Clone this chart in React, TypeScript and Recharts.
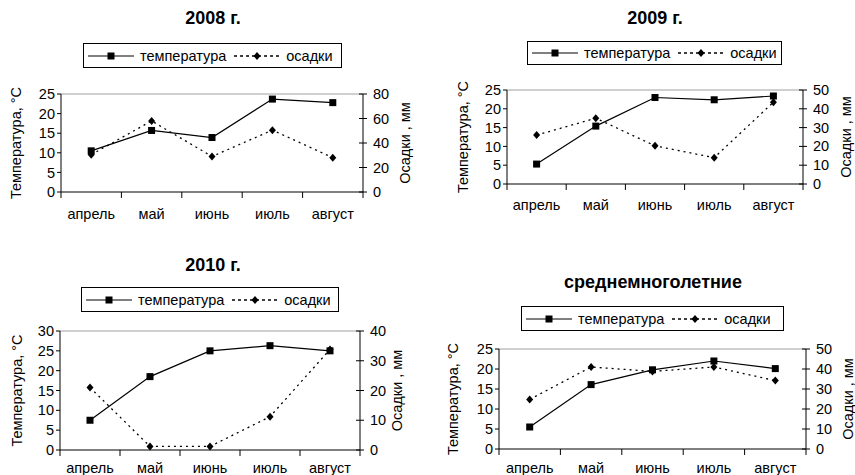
import React from "react";
import { LineChart, Line, XAxis, YAxis, ReferenceLine } from "recharts";

const months = ["апрель", "май", "июнь", "июль", "август"];

const temp2008 = [10.5, 15.7, 13.9, 23.7, 22.8];
const precip2008 = [30.5, 58, 29, 50.5, 28];
const temp2009 = [5.3, 15.4, 23, 22.4, 23.4];
const precip2009 = [26, 35, 20.3, 14, 43.5];
const temp2010 = [7.5, 18.5, 25, 26.3, 25];
const precip2010 = [21, 1.2, 1.2, 11.2, 33.8];
const tempAvg = [5.5, 16.1, 19.8, 22, 20.1];
const precipAvg = [24.8, 41, 38.8, 41, 34.2];

const ticks25 = [0, 5, 10, 15, 20, 25];
const ticks30 = [0, 5, 10, 15, 20, 25, 30];
const ticks80 = [0, 20, 40, 60, 80];
const ticks50 = [0, 10, 20, 30, 40, 50];
const ticks40 = [0, 10, 20, 30, 40];
const xTicks = [0, 0.5, 1, 1.5, 2, 2.5, 3, 3.5, 4, 4.5, 5];

const W = 855;
const H = 475;
const FONT = "'Liberation Sans', Arial, sans-serif";
const FS = 14.5;

type Rect = { l: number; r: number; t: number; b: number };

interface PanelProps {
  title: string;
  temp: number[];
  precip: number[];
  leftTicks: number[];
  rightTicks: number[];
  plot: Rect;
  titleX: number;
  titleY: number;
  legend: { x: number; y: number; w: number; h: number };
  leftLabelX: number;
  rightLabelX: number;
  labelGap: number;
}

const Square = (p: any) => (
  <rect key={`s-${p.index}`} x={p.cx - 3.5} y={p.cy - 3.5} width={7} height={7} fill="#000" />
);

const Diamond = (p: any) => (
  <path
    key={`d-${p.index}`}
    d={`M${p.cx},${p.cy - 4}L${p.cx + 3.5},${p.cy}L${p.cx},${p.cy + 4}L${p.cx - 3.5},${p.cy}Z`}
    fill="#000"
  />
);

const Panel: React.FC<PanelProps> = (props) => {
  const { plot, leftTicks, rightTicks } = props;
  const data = months.map((m, i) => ({ pos: i + 0.5, month: m, temp: props.temp[i], precip: props.precip[i] }));
  const leftMax = leftTicks[leftTicks.length - 1];
  const rightMax = rightTicks[rightTicks.length - 1];
  const leftW = 40;
  const rightW = 40;
  const xH = 20;
  const midY = (plot.t + plot.b) / 2;

  const xTick = (p: any) => {
    const v = p.payload.value;
    if (Number.isInteger(v)) {
      return <line x1={p.x} x2={p.x} y1={plot.b} y2={plot.b + 6} stroke="#000" />;
    }
    return (
      <text x={p.x} y={plot.b + props.labelGap} dy="0.35em" textAnchor="middle" fontSize={FS} fontFamily={FONT} fill="#000">
        {months[Math.floor(v)]}
      </text>
    );
  };

  const rightTick = (p: any) => (
    <g>
      <line x1={plot.r - 4} x2={plot.r + 4} y1={p.y} y2={p.y} stroke="#000" />
      <text x={plot.r + 10} y={p.y} dy="0.35em" textAnchor="start" fontSize={FS} fontFamily={FONT} fill="#000">
        {p.payload.value}
      </text>
    </g>
  );

  return (
    <div style={{ position: "absolute", left: 0, top: 0, width: W, height: H }}>
      <div
        style={{
          position: "absolute",
          left: props.titleX,
          top: props.titleY,
          transform: "translate(-50%, -50%)",
          fontFamily: FONT,
          fontWeight: "bold",
          fontSize: 18,
          whiteSpace: "nowrap",
        }}
      >
        {props.title}
      </div>
      <div
        style={{
          position: "absolute",
          left: props.legend.x,
          top: props.legend.y,
          width: props.legend.w,
          height: props.legend.h,
          boxSizing: "border-box",
          border: "1px solid #000",
          display: "flex",
          alignItems: "center",
          fontFamily: FONT,
          fontSize: FS,
          paddingLeft: 4,
          whiteSpace: "nowrap",
        }}
      >
        <svg width={46} height={12} style={{ marginRight: 6 }}>
          <line x1={0} x2={46} y1={6} y2={6} stroke="#000" />
          <rect x={19.5} y={2.5} width={7} height={7} fill="#000" />
        </svg>
        <span>температура</span>
        <svg width={46} height={12} style={{ marginLeft: 8, marginRight: 6 }}>
          <line x1={0} x2={46} y1={6} y2={6} stroke="#000" strokeDasharray="3 3" strokeWidth={1.3} />
          <path d="M23,2L26.5,6L23,10L19.5,6Z" fill="#000" />
        </svg>
        <span>осадки</span>
      </div>
      <LineChart
        width={W}
        height={H}
        data={data}
        style={{ position: "absolute", left: 0, top: 0 }}
        margin={{ left: plot.l - leftW, right: W - plot.r - rightW, top: plot.t, bottom: H - plot.b - xH }}
      >
        <XAxis
          type="number"
          dataKey="pos"
          domain={[0, 5]}
          ticks={xTicks}
          interval={0}
          height={xH}
          tickLine={false}
          tickSize={0}
          tickMargin={0}
          tick={xTick}
          axisLine={{ stroke: "#000" }}
        />
        <YAxis
          yAxisId="left"
          width={leftW}
          domain={[0, leftMax]}
          ticks={leftTicks}
          interval={0}
          tickSize={4}
          tickMargin={2}
          axisLine={{ stroke: "#000" }}
          tickLine={{ stroke: "#000" }}
          tick={{ fontSize: FS, fontFamily: FONT, fill: "#000" }}
          label={{
            content: () => (
              <text
                transform={`translate(${props.leftLabelX},${midY}) rotate(-90)`}
                textAnchor="middle"
                dy="0.35em"
                fontSize={FS}
                fontFamily={FONT}
                fill="#000"
              >
                Температура, °C
              </text>
            ),
          }}
        />
        <YAxis
          yAxisId="right"
          orientation="right"
          width={rightW}
          domain={[0, rightMax]}
          ticks={rightTicks}
          interval={0}
          tickSize={0}
          tickMargin={0}
          tickLine={false}
          axisLine={{ stroke: "#000" }}
          tick={rightTick}
          label={{
            content: () => (
              <text
                transform={`translate(${props.rightLabelX},${midY}) rotate(-90)`}
                textAnchor="middle"
                dy="0.35em"
                fontSize={FS}
                fontFamily={FONT}
                fill="#000"
              >
                Осадки , мм
              </text>
            ),
          }}
        />
        <ReferenceLine yAxisId="left" y={leftMax} stroke="#a0a0a0" />
        <Line
          yAxisId="left"
          dataKey="temp"
          type="linear"
          stroke="#000"
          strokeWidth={1.2}
          dot={Square}
          activeDot={false}
          isAnimationActive={false}
        />
        <Line
          yAxisId="right"
          dataKey="precip"
          type="linear"
          stroke="#000"
          strokeWidth={1.3}
          strokeDasharray="2 4"
          dot={Diamond}
          activeDot={false}
          isAnimationActive={false}
        />
      </LineChart>
    </div>
  );
};

export default function App() {
  return (
    <div style={{ position: "fixed", left: 0, top: 0, width: W, height: H, background: "#fff", overflow: "hidden" }}>
      <Panel
        title="2008 г."
        temp={temp2008}
        precip={precip2008}
        leftTicks={ticks25}
        rightTicks={ticks80}
        plot={{ l: 61, r: 363, t: 94, b: 192 }}
        titleX={213}
        titleY={18}
        legend={{ x: 83, y: 43, w: 259, h: 25 }}
        leftLabelX={16}
        rightLabelX={405}
        labelGap={22}
      />
      <Panel
        title="2009 г."
        temp={temp2009}
        precip={precip2009}
        leftTicks={ticks25}
        rightTicks={ticks50}
        plot={{ l: 507, r: 803, t: 90, b: 184 }}
        titleX={655}
        titleY={18}
        legend={{ x: 527, y: 41, w: 255, h: 24 }}
        leftLabelX={463}
        rightLabelX={846}
        labelGap={21}
      />
      <Panel
        title="2010 г."
        temp={temp2010}
        precip={precip2010}
        leftTicks={ticks30}
        rightTicks={ticks40}
        plot={{ l: 60, r: 360, t: 331, b: 450 }}
        titleX={213}
        titleY={265}
        legend={{ x: 81, y: 287, w: 258, h: 25 }}
        leftLabelX={17}
        rightLabelX={397}
        labelGap={18}
      />
      <Panel
        title="среднемноголетние"
        temp={tempAvg}
        precip={precipAvg}
        leftTicks={ticks25}
        rightTicks={ticks50}
        plot={{ l: 499, r: 806, t: 349, b: 449 }}
        titleX={653}
        titleY={282}
        legend={{ x: 521, y: 306, w: 263, h: 25 }}
        leftLabelX={453}
        rightLabelX={848}
        labelGap={19}
      />
    </div>
  );
}
